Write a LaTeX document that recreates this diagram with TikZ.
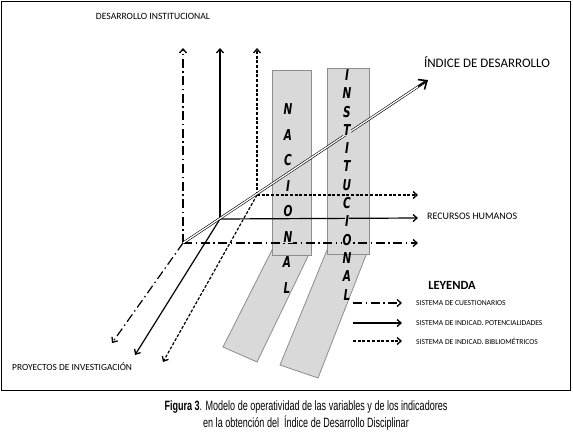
\documentclass[tikz,border=0pt]{standalone}
\usepackage{fontspec}
\setmainfont{Carlito}
\newfontfamily\capfont{Liberation Sans}
\newfontfamily\letfont{DejaVu Sans}
\usetikzlibrary{arrows.meta,calc}
\definecolor{stripfill}{HTML}{D9D9D9}
\definecolor{stripline}{HTML}{8C8C8C}
\tikzset{
  ax/.style={line width=1.2pt,-{Straight Barb[length=4pt,width=7pt,line width=1.3pt]}},
  dd/.style={ax,dash pattern=on 9pt off 3.5pt on 1.5pt off 3.5pt},
  ds/.style={ax,dash pattern=on 3pt off 1.7pt},
  strip/.style={fill=stripfill,draw=stripline,line width=0.8pt},
  lett/.style={font=\letfont\bfseries\itshape\fontsize{15}{15}\selectfont,inner sep=0.3pt},
  lettf/.style={lett,fill=stripfill},
  lab/.style={font=\fontsize{9.6}{9.6}\selectfont,inner sep=0pt},
  leg/.style={font=\fontsize{7.6}{7.6}\selectfont,inner sep=0pt,anchor=west},
}
\begin{document}
\begin{tikzpicture}[x=1pt,y=-1pt]
\useasboundingbox (0,0) rectangle (573,433);
\draw[line width=0.9pt] (1,1) rectangle (570,390);

% strips
\draw[strip] (272,250) -- (311,250) -- (257,362) -- (223,347) -- cycle;
\draw[strip] (272,70) rectangle (311,255);
\draw[strip] (327,250) -- (368,250) -- (318,378) -- (280,365) -- cycle;
\draw[strip] (327,68) rectangle (369,254);

% coordinates
\coordinate (O1) at (183,243);
\coordinate (O2) at (220,219);
\coordinate (O3) at (257,195);
\coordinate (V1) at (183,48);
\coordinate (V2) at (220,48);
\coordinate (V3) at (257,48);
\coordinate (H1) at (418,243);
\coordinate (H2) at (418,218);
\coordinate (H3) at (418,195);
\coordinate (D1) at (112,343);
\coordinate (D2) at (135,355);
\coordinate (D3) at (163,362);
\coordinate (IX) at (428,80);

% axes
\draw[dd] (O1) -- (V1);
\draw[ax] (O2) -- (V2);
\draw[ds] (O3) -- (V3);
\draw[dd] (O1) -- (H1);
\draw[ax] (O2) -- (H2);
\draw[ds] (O3) -- (H3);
\draw[dd] (O1) -- (D1);
\draw[ax] (O2) -- (D2);
\draw[ds] (O3) -- (D3);

% index arrow (double line)
\draw[double=white,double distance=1.3pt,line width=0.6pt,shorten >=3pt] (O1) -- (IX);
\draw[line width=1.6pt,-{Straight Barb[length=7pt,width=12pt,line width=1.6pt]}] ($(O1)!0.96!(IX)$) -- (IX);

% strip letters
\foreach \l [count=\i from 0] in {N,A,C,I,O,N}
  \node[lettf] (na\i) at (288,{109+25.6*\i}) {\scalebox{0.7}[1]{\l}};
\node[lett] (na6) at (287,262) {\scalebox{0.7}[1]{A}};
\node[lett] (na7) at (287,288) {\scalebox{0.7}[1]{L}};
\foreach \l [count=\i from 0] in {I,N,S,T,I,T,U,C,I,O}
  \node[lettf] (in\i) at (347,{75+18.3*\i}) {\scalebox{0.7}[1]{\l}};
\foreach \l [count=\i from 10] in {N,A,L}
  \node[lett] (in\i) at (347,{75+18.3*\i}) {\scalebox{0.7}[1]{\l}};

% labels
\node[lab] (tdi) at (153,16) {DESARROLLO INSTITUCIONAL};
\node[lab,font=\fontsize{13}{13}\selectfont] (tidx) at (487,62) {ÍNDICE DE DESARROLLO};
\node[lab,anchor=west,font=\fontsize{10}{10}\selectfont] (trh) at (427,216) {RECURSOS HUMANOS};
\node[lab,anchor=west,font=\fontsize{9.4}{9.4}\selectfont] (tpi) at (12,367) {PROYECTOS DE INVESTIGACIÓN};

% legend
\node[lab,font=\bfseries\fontsize{12.5}{12.5}\selectfont] (tley) at (452,285) {LEYENDA};
\coordinate (La1) at (353,303); \coordinate (Lb1) at (402,303);
\coordinate (La2) at (353,323); \coordinate (Lb2) at (402,323);
\coordinate (La3) at (353,341); \coordinate (Lb3) at (402,341);
\draw[dd] (La1) -- (Lb1);
\draw[ax] (La2) -- (Lb2);
\draw[ds] (La3) -- (Lb3);
\node[leg] (lg1) at (416,303) {SISTEMA DE CUESTIONARIOS};
\node[leg] (lg2) at (416,323) {SISTEMA DE INDICAD. POTENCIALIDADES};
\node[leg] (lg3) at (416,341) {SISTEMA DE INDICAD. BIBLIOMÉTRICOS};

% caption
\node[font=\capfont\fontsize{13.5}{17}\selectfont,align=center,inner sep=0pt] (cap) at (306,416)
  {\scalebox{0.67}[1]{\textbf{Figura 3}. Modelo de operatividad de las variables y de los indicadores}\\
   \scalebox{0.67}[1]{en la obtención del\ \ Índice de Desarrollo Disciplinar}};
\end{tikzpicture}
\end{document}
